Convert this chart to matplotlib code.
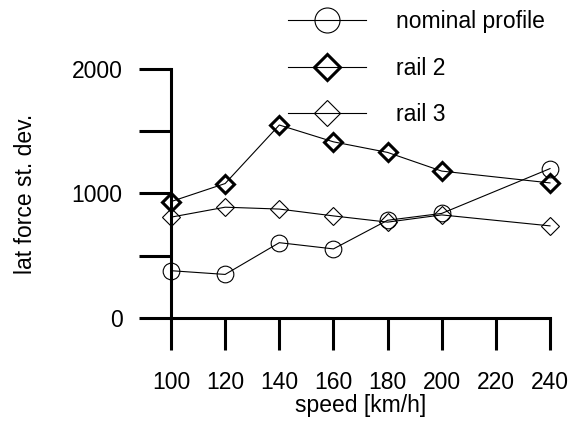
import numpy as np
import matplotlib.pyplot as plt

plt.rcParams['font.family'] = ['Liberation Sans', 'DejaVu Sans']

speed = [100, 120, 140, 160, 180, 200, 240]
nominal = [380, 350, 605, 555, 785, 840, 1200]
rail2 = [935, 1080, 1550, 1415, 1330, 1180, 1085]
rail3 = [810, 890, 875, 820, 770, 828, 740]

xticks = [100, 120, 140, 160, 180, 200, 220, 240]
yticks = [0, 500, 1000, 1500, 2000]
ylabels = ['0', '', '1000', '', '2000']

fs = 16.5

fig = plt.figure(figsize=(5.72, 4.23), dpi=100)
ax = fig.add_axes([171/572, 105/423, 379/572, 249/423])

l1, = ax.plot(speed, nominal, color='black', lw=0.8, marker='o', ms=12,
              mfc='none', mec='black', mew=0.8, clip_on=False, label='nominal profile')
l2, = ax.plot(speed, rail2, color='black', lw=0.8, marker='D', ms=9,
              mfc='none', mec='black', mew=2.2, clip_on=False, label='rail 2')
l3, = ax.plot(speed, rail3, color='black', lw=0.8, marker='D', ms=9,
              mfc='none', mec='black', mew=0.8, clip_on=False, label='rail 3')

ax.set_xlim(100, 240)
ax.set_ylim(0, 2000)
ax.set_xticks(xticks)
ax.set_yticks(yticks)
ax.set_yticklabels(ylabels)

for s in ['top', 'right']:
    ax.spines[s].set_visible(False)
for s in ['left', 'bottom']:
    ax.spines[s].set_linewidth(2.2)
ax.tick_params(direction='out', length=23, width=2.2, labelsize=fs)
ax.tick_params(axis='x', pad=15)
ax.tick_params(axis='y', pad=12)

ax.set_xlabel('speed [km/h]', fontsize=fs, labelpad=0)
ax.set_ylabel('lat force st. dev.', fontsize=fs, labelpad=25)

fig.legend(handles=[l1, l2, l3], loc='upper left',
           bbox_to_anchor=(288/572, 1 - 10/423), frameon=False,
           fontsize=fs, markerscale=1.5, handlelength=3.4,
           handletextpad=1.3, labelspacing=1.03, borderpad=0, borderaxespad=0)

fig.savefig('out.png', dpi=100)
